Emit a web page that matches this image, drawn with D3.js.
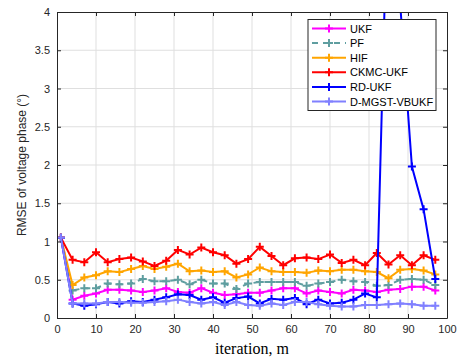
<!DOCTYPE html>
<html>
<head>
<meta charset="utf-8">
<script src="https://cdn.jsdelivr.net/npm/d3@7"></script>
<style>
  body { margin: 0; background: #fff; }
  svg { display: block; }
</style>
</head>
<body>
<div id="chart"></div>
<script>
// iteration index of each sample
const iters = d3.range(33).map(k => 1 + 3 * k);

const ukf = [1.05,0.24,0.29,0.32,0.37,0.37,0.36,0.34,0.36,0.39,0.34,0.33,0.39,0.33,0.30,0.31,0.33,
  0.33,0.36,0.39,0.39,0.32,0.36,0.34,0.32,0.37,0.36,0.34,0.37,0.38,0.41,0.41,0.36];
const pf = [1.05,0.36,0.39,0.39,0.45,0.44,0.45,0.51,0.48,0.48,0.50,0.44,0.50,0.45,0.45,0.38,0.45,
  0.47,0.47,0.47,0.47,0.42,0.45,0.47,0.50,0.48,0.47,0.42,0.43,0.50,0.51,0.50,0.43];
const hif = [1.05,0.43,0.53,0.56,0.61,0.60,0.64,0.68,0.64,0.67,0.71,0.61,0.62,0.60,0.61,0.53,0.57,
  0.66,0.61,0.60,0.60,0.59,0.62,0.61,0.63,0.63,0.61,0.60,0.52,0.63,0.64,0.62,0.57];
const ckmc = [1.05,0.76,0.73,0.86,0.73,0.77,0.79,0.74,0.68,0.75,0.89,0.83,0.92,0.86,0.82,0.71,0.77,
  0.93,0.81,0.69,0.78,0.79,0.77,0.83,0.72,0.76,0.69,0.85,0.70,0.82,0.69,0.82,0.76];
const rdukf = [1.05,0.19,0.16,0.18,0.21,0.19,0.22,0.21,0.24,0.27,0.31,0.30,0.24,0.27,0.20,0.26,0.28,
  0.19,0.25,0.24,0.26,0.18,0.24,0.19,0.20,0.24,0.32,0.27,6.0,4.1,1.98,1.42,0.51];
const dmgst = [1.05,0.19,0.19,0.19,0.21,0.21,0.20,0.20,0.21,0.22,0.24,0.21,0.19,0.21,0.17,0.21,0.17,
  0.16,0.19,0.17,0.21,0.21,0.18,0.16,0.15,0.15,0.17,0.17,0.18,0.19,0.18,0.16,0.16];

const seriesNames = ["UKF","PF","HIF","CKMC-UKF","RD-UKF","D-MGST-VBUKF"];
const seriesValues = [ukf, pf, hif, ckmc, rdukf, dmgst];
const seriesColors = ["#ff00ff","#5f9ea0","#ffa500","#ff0000","#0000ff","#8080ff"];
const seriesDash = [null,"6,5",null,null,null,null];

const xTicks = d3.range(0, 101, 10);
const yTicks = d3.range(0, 4.01, 0.5);

const W = 461, H = 363;
const margin = { top: 12, right: 14, bottom: 45, left: 57 };
const pw = W - margin.left - margin.right;
const ph = H - margin.top - margin.bottom;

const svg = d3.select("#chart").append("svg")
  .attr("width", W).attr("height", H)
  .style("font-family", "'Liberation Sans', Arial, sans-serif");

const g = svg.append("g").attr("transform", `translate(${margin.left},${margin.top})`);

const x = d3.scaleLinear().domain([0, 100]).range([0, pw]);
const y = d3.scaleLinear().domain([0, 4]).range([ph, 0]);

// grid
g.append("g").selectAll("line").data(xTicks.slice(1, -1)).join("line")
  .attr("x1", d => x(d)).attr("x2", d => x(d)).attr("y1", 0).attr("y2", ph)
  .attr("stroke", "#dfdfdf").attr("stroke-width", 1);
g.append("g").selectAll("line").data(yTicks.slice(1, -1)).join("line")
  .attr("y1", d => y(d)).attr("y2", d => y(d)).attr("x1", 0).attr("x2", pw)
  .attr("stroke", "#dfdfdf").attr("stroke-width", 1);

// clip region
svg.append("defs").append("clipPath").attr("id", "clip")
  .append("rect").attr("width", pw).attr("height", ph);

const plot = g.append("g").attr("clip-path", "url(#clip)");

const line = d3.line().x((d, i) => x(iters[i])).y(d => y(d));

seriesValues.forEach((vals, s) => {
  plot.append("path").datum(vals)
    .attr("d", line)
    .attr("fill", "none")
    .attr("stroke", seriesColors[s])
    .attr("stroke-width", 2)
    .attr("stroke-dasharray", seriesDash[s]);
  plot.append("g").selectAll("path").data(vals).join("path")
    .attr("d", (d, i) => {
      const cx = x(iters[i]), cy = y(d), r = 4;
      return `M${cx - r},${cy}H${cx + r}M${cx},${cy - r}V${cy + r}`;
    })
    .attr("stroke", seriesColors[s])
    .attr("stroke-width", 2);
});

// axes (MATLAB style, ticks inside)
const axisColor = "#262626";
const xAxis = g.append("g").attr("transform", `translate(0,${ph})`)
  .call(d3.axisBottom(x).tickValues(xTicks).tickSizeInner(-4).tickSizeOuter(0).tickPadding(7));
const xTop = g.append("g")
  .call(d3.axisTop(x).tickValues(xTicks).tickSizeInner(-4).tickSizeOuter(0).tickFormat(""));
const yAxis = g.append("g")
  .call(d3.axisLeft(y).tickValues(yTicks).tickSizeInner(-4).tickSizeOuter(0).tickPadding(7)
    .tickFormat(d3.format("~g")));
const yRight = g.append("g").attr("transform", `translate(${pw},0)`)
  .call(d3.axisRight(y).tickValues(yTicks).tickSizeInner(-4).tickSizeOuter(0).tickFormat(""));

[xAxis, xTop, yAxis, yRight].forEach(a => {
  a.select(".domain").attr("stroke", axisColor);
  a.selectAll(".tick line").attr("stroke", axisColor);
  a.selectAll(".tick text").attr("fill", axisColor).style("font-size", "11px")
    .style("font-family", "'Liberation Sans', Arial, sans-serif");
});

// labels
svg.append("text")
  .attr("x", margin.left + pw / 2).attr("y", 354)
  .attr("text-anchor", "middle")
  .style("font-family", "'Liberation Serif', 'Times New Roman', serif")
  .style("font-size", "16px").attr("fill", "#000")
  .text("iteration, m");

svg.append("text")
  .attr("transform", `translate(26,${margin.top + ph / 2}) rotate(-90)`)
  .attr("text-anchor", "middle")
  .style("font-size", "12px").attr("fill", axisColor)
  .text("RMSE of voltage phase (°)");

// legend
const lg = svg.append("g").attr("transform", "translate(308,19.5)");
lg.append("rect").attr("width", 128).attr("height", 91)
  .attr("fill", "#fff").attr("stroke", "#262626").attr("stroke-width", 1);
seriesNames.forEach((name, s) => {
  const ly = 9 + s * 14.6;
  const row = lg.append("g").attr("transform", `translate(0,${ly})`);
  row.append("line").attr("x1", 4).attr("x2", 38).attr("y1", 0).attr("y2", 0)
    .attr("stroke", seriesColors[s]).attr("stroke-width", 2)
    .attr("stroke-dasharray", seriesDash[s]);
  row.append("path").attr("d", "M17,0H25M21,-4V4")
    .attr("stroke", seriesColors[s]).attr("stroke-width", 2);
  row.append("text").attr("x", 42).attr("y", 4)
    .style("font-size", "11px").attr("fill", "#000").text(name);
});
</script>
</body>
</html>
